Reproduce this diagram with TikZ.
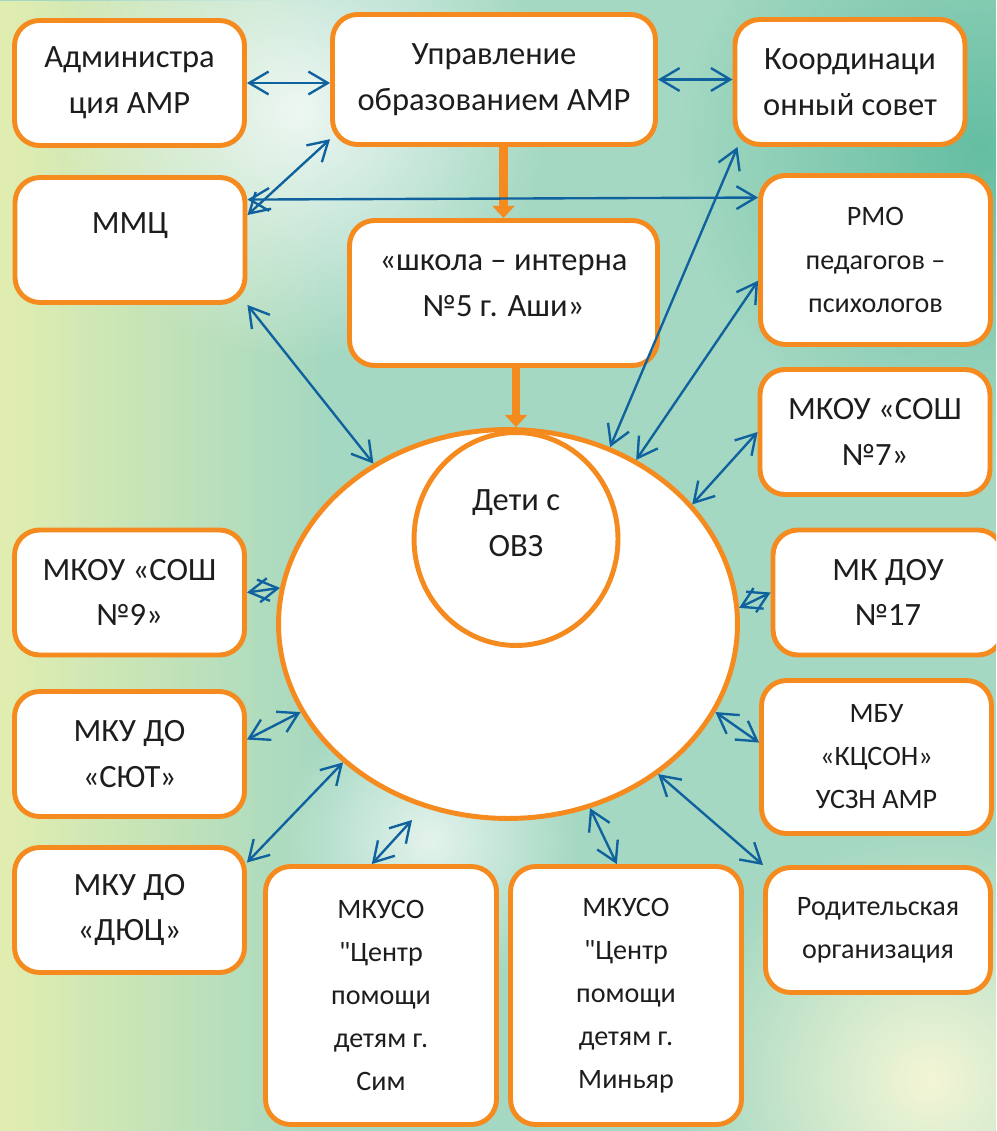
\documentclass[tikz,border=0pt]{standalone}
\usepackage{fontspec}
\setmainfont{Carlito}
\newfontfamily\plainq{Carlito}
\usetikzlibrary{arrows.meta,shapes.geometric,fadings}
\definecolor{orng}{RGB}{245,138,31}
\definecolor{arrblue}{RGB}{16,98,158}
\definecolor{ink}{RGB}{30,28,28}
\definecolor{mint}{RGB}{164,216,194}
\definecolor{leaf}{RGB}{226,238,176}
\definecolor{sea}{RGB}{100,190,162}
\definecolor{cream}{RGB}{244,246,214}
\tikzfading[name=glow, inner color=transparent!0, outer color=transparent!100]
\tikzset{box/.style={draw=orng, line width=2.8pt, fill=white, rounded corners=0.5cm, inner sep=0pt,
    minimum width=4.6cm, minimum height=2.5cm, align=center, text=ink, font=\fontsize{18.5}{26}\selectfont}}
\tikzset{sbox/.style={box, font=\fontsize{16}{24.5}\selectfont}}
\tikzset{ring/.style={draw=orng, line width=2.8pt, fill=white, ellipse, inner sep=0pt, align=center,
    text=ink, font=\fontsize{18.5}{26}\selectfont}}
\tikzset{link/.style={draw=arrblue, line width=1.35pt, <->, >={Straight Barb[length=11pt,width=13pt]}}}
\tikzset{feed/.style={draw=orng, line width=5pt, -{Triangle[length=7pt,width=12.5pt]}}}

\begin{document}
\begin{tikzpicture}[x=0.02cm,y=-0.02cm]
    \useasboundingbox (0,0) rectangle (996,1131);
    \clip (0,0) rectangle (996,1131);
    % background
    \fill[mint] (0,0) rectangle (996,1131);
    \fill[leaf, path fading=east] (0,0) rectangle (330,1131);
    \fill[sea, path fading=glow] (980,150) circle (6cm);
    \fill[white, opacity=0.8, path fading=glow] (300,110) circle (5cm);
    \fill[white, opacity=0.7, path fading=glow] (430,840) circle (3cm);
    \fill[cream, path fading=glow] (930,1080) circle (5cm);

    \node[box] (adm) at (129.5,83) {Администра\\ция АМР};
    \node[box, minimum width=6.46cm, minimum height=2.6cm] (upr) at (494,79.5) {Управление\\образованием АМР};
    \node[box] (koord) at (850,82) {Координаци\\онный совет};
    \node[box] (mmc) at (130,240) {ММЦ\\[-7pt]\mbox{}};
    \node[box, minimum width=6.16cm, minimum height=2.9cm] (school) at (503.5,293) {«школа – интерна\\№5 г. Аши»\\[-17.5pt]\mbox{}};
    \node[sbox, minimum height=3.38cm] (rmo) at (875.5,260) {РМО\\педагогов –\\психологов};
    \node[box] (sosh7) at (875,432) {МКОУ «СОШ\\№7»};
    \node[box] (sosh9) at (129.5,592.5) {МКОУ «СОШ\\№9»};
    \node[box] (dou) at (888,592.5) {МК ДОУ\\№17};
    \node[box] (syut) at (129.5,754) {МКУ ДО\\«СЮТ»};
    \node[sbox, minimum height=3.06cm] (mbu) at (876.5,757) {МБУ\\«КЦСОН»\\УСЗН АМР};
    \node[box] (dyuc) at (129.5,910) {МКУ ДО\\«ДЮЦ»};
    \node[sbox, minimum width=4.62cm, minimum height=5.16cm] (sim) at (381,995.5) {МКУСО\\{\plainq"}Центр\\помощи\\детям г.\\Сим};
    \node[sbox, minimum width=4.62cm, minimum height=5.16cm] (minyar) at (626,995.5) {МКУСО\\{\plainq"}Центр\\помощи\\детям г.\\Миньяр};
    \node[sbox, minimum width=4.5cm] (rod) at (878,930) {Родительская\\организация};

    \node[ring, minimum width=9.18cm, minimum height=7.78cm] (kids) at (508,624) {};
    \node[ring, minimum width=4.08cm, minimum height=4.26cm] (kid) at (516,539) {Дети с\\ОВЗ\\[-8pt]\mbox{}};
    \coordinate (simtip) at (412,820);

    % links
    \path (upr.south -| school.north) edge[feed] (school.north);
    \path (school.south -| kid.north) edge[feed] (kids.north -| kid.north);
    \path (adm.east) edge[link] (adm.east -| upr.west);
    \path (upr.east) edge[link] (upr.east -| koord.west);
    \path (mmc.12) edge[link] (upr.200);
    \path (mmc.19) edge[link] (rmo.152.5);
    \path (mmc.south east) edge[link] (kids.130.6);
    \path (koord.210) edge[link] (kids.60.8);
    \path (rmo.190.5) edge[link] (kids.52.8);
    \path (sosh7.west) edge[link] (kids.33.8);
    \path (sosh9.east) edge[link] (kids.171.7);
    \path (dou.west) edge[link] (kids.4.3);
    \path (syut.7) edge[link] (kids.203.2);
    \path (mbu.173) edge[link] (kids.337);
    \path (dyuc.22) edge[link] (kids.220.6);
    \path (sim.94) edge[link] (simtip);
    \path (minyar.94) edge[link] (kids.294.1);
    \path (rod.north west) edge[link] (kids.315.6);
\end{tikzpicture}
\end{document}
